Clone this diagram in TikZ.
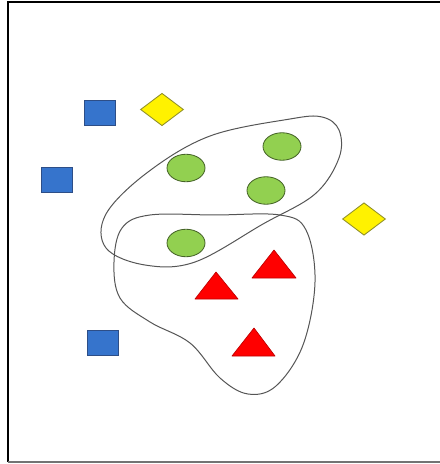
\documentclass[tikz,border=0pt]{standalone}
\usetikzlibrary{shapes.geometric}
\definecolor{sqblue}{RGB}{54,116,204}
\definecolor{sqedge}{RGB}{45,78,135}
\definecolor{diaedge}{RGB}{140,140,40}
\definecolor{dotgreen}{RGB}{146,208,80}
\definecolor{dotedge}{RGB}{70,100,40}
\definecolor{triedge}{RGB}{190,0,0}
\definecolor{blobline}{RGB}{85,85,85}
\begin{document}
\begin{tikzpicture}[x=0.6pt, y=-0.6pt,
  sq/.style={draw=sqedge, fill=sqblue, minimum width=18.6pt, minimum height=15pt, inner sep=0pt, line width=0.5pt},
  dia/.style={diamond, draw=diaedge, fill=yellow, minimum width=25.8pt, minimum height=19.5pt, inner sep=0pt, line width=0.5pt},
  dot/.style={ellipse, draw=dotedge, fill=dotgreen, minimum width=22.8pt, minimum height=16.5pt, inner sep=0pt, line width=0.5pt},
  tri/.style={draw=triedge, fill=red, line width=0.4pt, line join=round},
  blob/.style={draw=blobline, line width=0.6pt}]
  \useasboundingbox (0,0) rectangle (439,464);
  % frame
  \draw[line width=1.3pt] (8,462) -- (8,2) -- (445,2);
  \draw[black!55, line width=1.2pt] (8,462) -- (445,462);
  % groups
  \draw[blob] plot[smooth cycle, tension=0.6] coordinates {
    (210,136) (290,119) (322,117) (339,130) (339,158) (315,194)
    (263,224) (195,262) (145,265) (106,248) (106,214) (148,172)};
  \draw[blob] plot[smooth cycle, tension=0.6] coordinates {
    (150,215) (215,215) (280,215) (306,230) (315,282) (303,345)
    (276,386) (248,394) (220,378) (190,343) (150,322) (120,298) (114,262) (122,228)};
  % squares
  \node[sq] (s1) at (100,113) {};
  \node[sq] (s2) at (56.5,179.5) {};
  \node[sq] (s3) at (102.5,342.5) {};
  % diamonds
  \node[dia] (d1) at (162,109.5) {};
  \node[dia] (d2) at (364,219) {};
  % circles
  \node[dot] (c1) at (186,168) {};
  \node[dot] (c2) at (282,146.5) {};
  \node[dot] (c3) at (266,190.5) {};
  \node[dot] (c4) at (186,243) {};
  % triangles
  \draw[tri] (274,250) -- (296,278) -- (252,278) -- cycle;
  \draw[tri] (216,272) -- (238,299) -- (195,299) -- cycle;
  \draw[tri] (254,328) -- (275,356) -- (232,356) -- cycle;
\end{tikzpicture}
\end{document}
